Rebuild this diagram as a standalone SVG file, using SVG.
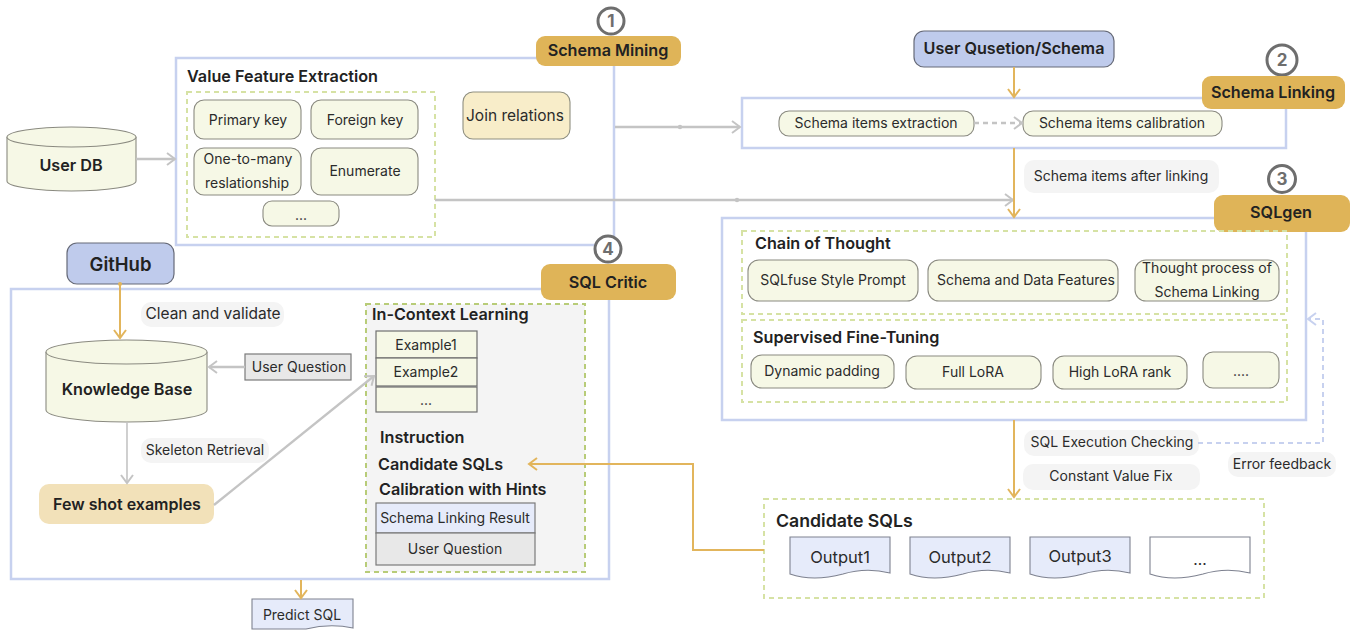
<svg xmlns="http://www.w3.org/2000/svg" width="1355" height="630" viewBox="0 0 1355 630">
<style>
text{font-family:Inter,"Liberation Sans",sans-serif;fill:#2b2b2b;font-size:14px;text-anchor:middle;dominant-baseline:central}
.b{font-weight:600;font-size:16.2px;fill:#222}
.l{text-anchor:start}
.frame{fill:#fff;stroke:#c7d1ef;stroke-width:2.5}
.dash{fill:none;stroke:#d6e2a4;stroke-width:2;stroke-dasharray:5 4}
.item{fill:#f6f8e6;stroke:#8a8a80;stroke-width:1.1}
.badge{fill:#dfb458}
.blue{fill:#bfcbec;stroke:#666a78;stroke-width:1.2}
.pill{fill:#f4f4f4}
.num{fill:#fff;stroke:#6e6e6e;stroke-width:3}
.numt{font-weight:700;font-size:17px;fill:#6e6e6e}
.cell{fill:#f6f8e6;stroke:#6f6f6f;stroke-width:1.2}
.grey{fill:#e8e8e8;stroke:#7a7a7a;stroke-width:1.2}
.lav{fill:#e6ebfa;stroke:#7a7a7a;stroke-width:1.2}
.doc{stroke:#7e8290;stroke-width:1.1}
.og{fill:none;stroke:#e2b55c;stroke-width:2}
.gy{fill:none;stroke:#c4c4c4;stroke-width:2.3}
</style>
<defs>
<marker id="ao" markerUnits="userSpaceOnUse" markerWidth="14" markerHeight="16" refX="11" refY="8" orient="auto"><path d="M3 2L11 8L3 14" fill="none" stroke="#e2b55c" stroke-width="2"/></marker>
<marker id="ag" markerUnits="userSpaceOnUse" markerWidth="14" markerHeight="16" refX="11" refY="8" orient="auto"><path d="M3 2L11 8L3 14" fill="none" stroke="#c4c4c4" stroke-width="2"/></marker>
<marker id="ab" markerUnits="userSpaceOnUse" markerWidth="14" markerHeight="16" refX="11" refY="8" orient="auto"><path d="M3 2L11 8L3 14" fill="none" stroke="#c7d1ef" stroke-width="2"/></marker>
</defs>

<g id="frame-mining"><rect class="frame" x="176" y="58" width="438" height="187"/></g>
<g id="frame-linking"><rect class="frame" x="742" y="98" width="544" height="50"/></g>
<g id="frame-sqlgen"><rect class="frame" x="722" y="218" width="584" height="202"/></g>
<g id="frame-critic"><rect class="frame" x="11" y="289" width="598" height="290"/></g>

<g id="step1"><circle class="num" cx="611" cy="21" r="13"/><text class="numt" x="611" y="21">1</text></g>
<g id="schema-mining"><rect class="badge" x="536" y="36" width="145" height="30" rx="9"/><text class="b" x="608" y="50">Schema Mining</text></g>
<g id="value-feature"><text class="b l" x="187" y="76">Value Feature Extraction</text><rect class="dash" x="187" y="92" width="248" height="145"/></g>
<g id="primary-key"><rect class="item" x="194" y="100" width="107" height="39" rx="10"/><text x="248" y="119">Primary key</text></g>
<g id="foreign-key"><rect class="item" x="311" y="100" width="107" height="39" rx="10"/><text x="365" y="119">Foreign key</text></g>
<g id="one-to-many"><rect class="item" x="194" y="148" width="107" height="47" rx="10"/><text x="248" y="158">One-to-many</text><text x="247" y="182">reslationship</text></g>
<g id="enumerate"><rect class="item" x="311" y="148" width="107" height="47" rx="10"/><text x="365" y="170">Enumerate</text></g>
<g id="more1"><rect class="item" x="263" y="201" width="76" height="25" rx="9"/><text x="301" y="214">...</text></g>
<g id="join-relations"><rect x="463" y="92" width="107" height="47" rx="10" fill="#f8edc9" stroke="#8f8f80" stroke-width="1.1"/><text x="515" y="115" style="font-size:15.5px">Join relations</text></g>
<g id="user-db"><path class="item" d="M7 137V181A64.500 10 0 0 0 136 181V137"/><ellipse class="item" cx="71.500" cy="137" rx="64.500" ry="10"/><text class="b" x="71" y="165">User DB</text></g>

<g id="user-question-schema"><rect class="blue" x="914" y="31" width="200" height="36" rx="10"/><text class="b" x="1014" y="48">User Qusetion/Schema</text></g>
<g id="step2"><circle class="num" cx="1282" cy="60" r="15"/><text class="numt" x="1282" y="60">2</text></g>
<g id="schema-linking"><rect class="badge" x="1202" y="76" width="143" height="33" rx="9"/><text class="b" x="1273" y="92">Schema Linking</text></g>
<g id="items-extraction"><rect class="item" x="779" y="111" width="195" height="25" rx="10"/><text x="876" y="122.500">Schema items extraction</text></g>
<g id="items-calibration"><rect class="item" x="1023" y="111" width="199" height="25" rx="10"/><text x="1122" y="122.500">Schema items calibration</text></g>
<g id="after-linking"><rect class="pill" x="1024" y="160" width="195" height="33" rx="10"/><text x="1121" y="175.500">Schema items after linking</text></g>
<g id="step3"><circle class="num" cx="1282" cy="179" r="13.500"/><text class="numt" x="1282" y="179">3</text></g>
<g id="sqlgen"><rect class="badge" x="1214" y="195" width="136" height="37" rx="9"/><text class="b" x="1281" y="212">SQLgen</text></g>

<g id="chain-of-thought"><rect class="dash" x="742" y="231" width="545" height="83"/><text class="b l" x="755" y="243">Chain of Thought</text></g>
<g id="sqlfuse"><rect class="item" x="748" y="260" width="170" height="41" rx="11"/><text x="833" y="279.500">SQLfuse Style Prompt</text></g>
<g id="schema-data"><rect class="item" x="928" y="260" width="190" height="41" rx="11"/><text x="1026" y="279.500">Schema and Data Features</text></g>
<g id="thought-process"><rect class="item" x="1135" y="260" width="144" height="41" rx="11"/><text x="1207" y="267">Thought process of</text><text x="1207" y="291">Schema Linking</text></g>
<g id="fine-tuning"><rect class="dash" x="742" y="320" width="545" height="82"/><text class="b l" x="753" y="336.500">Supervised Fine-Tuning</text></g>
<g id="dynamic-padding"><rect class="item" x="751" y="355" width="143" height="33" rx="11"/><text x="822" y="370">Dynamic padding</text></g>
<g id="full-lora"><rect class="item" x="906" y="356" width="135" height="33" rx="11"/><text x="973" y="371">Full LoRA</text></g>
<g id="high-lora"><rect class="item" x="1053" y="356" width="134" height="33" rx="11"/><text x="1120" y="371">High LoRA rank</text></g>
<g id="more2"><rect class="item" x="1203" y="352" width="76" height="36" rx="10"/><text x="1241" y="370">....</text></g>

<g id="sql-exec"><rect class="pill" x="1024" y="430" width="175" height="26" rx="10"/><text x="1112" y="441">SQL Execution Checking</text></g>
<g id="constant-fix"><rect class="pill" x="1023" y="464" width="177" height="26" rx="10"/><text x="1111" y="475.500">Constant Value Fix</text></g>
<g id="error-feedback"><rect class="pill" x="1228" y="452" width="108" height="25" rx="10"/><text x="1282" y="463">Error feedback</text></g>

<g id="candidate-sqls"><rect class="dash" x="764" y="499" width="500" height="99"/><text class="b l" x="776" y="520" style="font-size:17.700px">Candidate SQLs</text></g>
<g id="output1"><path class="doc" fill="#e6ebfa" d="M790 537H890V573Q866 567 843 574Q813 582 790 574Z"/><text x="840" y="556.500" style="font-size:16.500px">Output1</text></g>
<g id="output2"><path class="doc" fill="#e6ebfa" d="M910 537H1010V573Q986 567 963 574Q933 582 910 574Z"/><text x="960" y="556.500" style="font-size:16.500px">Output2</text></g>
<g id="output3"><path class="doc" fill="#e6ebfa" d="M1030 537H1130V573Q1106 567 1083 574Q1053 582 1030 574Z"/><text x="1080" y="556" style="font-size:16.500px">Output3</text></g>
<g id="output4"><path class="doc" fill="#fff" d="M1150 537H1250V573Q1226 567 1203 574Q1173 582 1150 574Z"/><text x="1200" y="559" style="font-size:15.500px">...</text></g>

<g id="step4"><circle class="num" cx="608" cy="249" r="13"/><text class="numt" x="608" y="249">4</text></g>
<g id="sql-critic"><rect class="badge" x="541" y="264" width="135" height="36" rx="9"/><text class="b" x="608" y="281.500">SQL Critic</text></g>
<g id="github"><rect class="blue" x="67" y="243" width="107" height="41" rx="10"/><text class="b" x="120.500" y="263.500" style="font-size:18.500px">GitHub</text></g>
<g id="clean-validate"><rect class="pill" x="141" y="302" width="143" height="25" rx="10"/><text x="213" y="313.500" style="font-size:15.500px">Clean and validate</text></g>
<g id="knowledge-base"><path class="item" d="M46 352V410A80.500 12 0 0 0 207 410V352"/><ellipse class="item" cx="126.500" cy="352" rx="80.500" ry="12"/><text class="b" x="127" y="388.500">Knowledge Base</text></g>
<g id="user-question"><rect class="grey" x="245" y="354" width="106" height="26"/><text x="299" y="366">User Question</text></g>
<g id="skeleton"><rect class="pill" x="141" y="438" width="128" height="25" rx="10"/><text x="205" y="449.500">Skeleton Retrieval</text></g>
<g id="few-shot"><rect x="39" y="484" width="175" height="40" rx="10" fill="#f2e1b9"/><text class="b" x="127" y="503.500" style="font-size:16px">Few shot examples</text></g>
<g id="in-context"><rect x="366" y="304" width="219" height="268" fill="#f4f4f4" stroke="#b8cc78" stroke-width="2" stroke-dasharray="5 4"/><text class="b l" x="372" y="314">In-Context Learning</text></g>
<g id="example1"><rect class="cell" x="376" y="331" width="101" height="27"/><text x="426" y="344">Example1</text></g>
<g id="example2"><rect class="cell" x="376" y="358" width="101" height="28"/><text x="426" y="371">Example2</text></g>
<g id="example-more"><rect class="cell" x="376" y="387" width="101" height="25"/><text x="426" y="399">...</text></g>
<text class="b l" x="380" y="436.500">Instruction</text>
<text class="b l" x="378" y="463.500">Candidate SQLs</text>
<text class="b l" x="379" y="488.500">Calibration with Hints</text>
<g id="linking-result"><rect class="lav" x="376" y="503" width="159" height="30"/><text x="455" y="517">Schema Linking Result</text></g>
<g id="critic-question"><rect class="grey" x="376" y="533" width="159" height="32"/><text x="455" y="548.500">User Question</text></g>
<g id="predict-sql"><path class="doc" fill="#e6ebfa" d="M252 599H353V628Q330 623 306 629H252Z"/><text x="302" y="614.500">Predict SQL</text></g>

<g id="connectors">
<path class="gy" d="M136 159H175" marker-end="url(#ag)"/>
<path class="gy" d="M615 127H740" marker-end="url(#ag)"/>
<circle cx="680" cy="127" r="2.200" fill="#c4c4c4"/>
<path class="gy" d="M435 200H1013" marker-end="url(#ag)"/>
<circle cx="737" cy="200" r="2.200" fill="#c4c4c4"/>
<path class="gy" d="M974 123H1022" stroke-dasharray="5 4" marker-end="url(#ag)"/>
<path class="og" d="M1014 67V97" marker-end="url(#ao)"/>
<path class="og" d="M1014 148V217" marker-end="url(#ao)"/>
<path class="og" d="M1014 420V497" marker-end="url(#ao)"/>
<path class="og" d="M764 550H693V464H529" marker-end="url(#ao)"/>
<path class="og" d="M120 284V338" marker-end="url(#ao)"/>
<circle cx="120" cy="284" r="2" fill="#e2b55c"/>
<path class="og" d="M301 580V598" marker-end="url(#ao)"/>
<path class="gy" d="M245 367H209" marker-end="url(#ag)"/>
<path class="gy" style="stroke-width:1.6" d="M127 422V483" marker-end="url(#ag)"/>
<path class="gy" d="M214 505L374 376" marker-end="url(#ag)"/>
<path class="gy" style="stroke:#c7d1ef;stroke-width:2" stroke-dasharray="5 4" d="M1198 443H1323V319H1308" marker-end="url(#ab)"/>
</g>
</svg>
